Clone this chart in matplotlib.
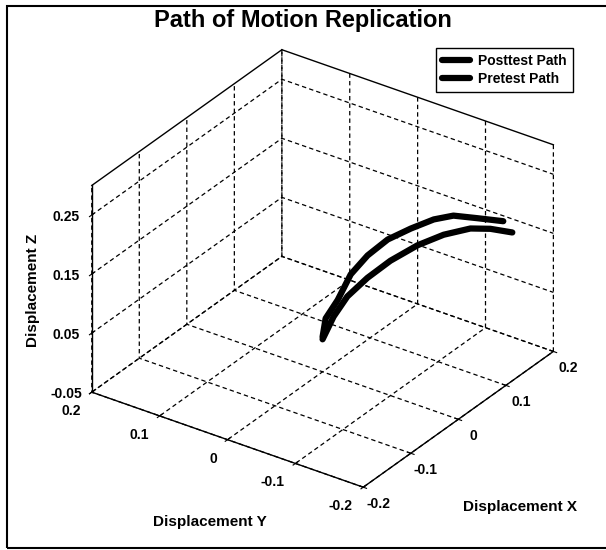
import matplotlib
matplotlib.use("Agg")
import matplotlib.pyplot as plt
from matplotlib.patches import Rectangle
import numpy as np

plt.rcParams['font.family'] = ['Liberation Sans', 'DejaVu Sans']
plt.rcParams['grid.linestyle'] = '--'

# ---- data ----
post_x = [0.000, -0.015, -0.011, -0.005, 0.009, 0.030, 0.057, 0.084, 0.104, 0.133, 0.166]
post_y = [0.000, -0.015, -0.030, -0.045, -0.060, -0.075, -0.090, -0.105, -0.120, -0.135, -0.150]
post_z = [0.009, 0.055, 0.090, 0.136, 0.166, 0.187, 0.196, 0.202, 0.203, 0.188, 0.170]

pre_x = [0.000, -0.001, 0.005, 0.023, 0.047, 0.081, 0.112, 0.144, 0.163, 0.185]
pre_y = [0.000, -0.017, -0.033, -0.050, -0.067, -0.083, -0.100, -0.117, -0.133, -0.150]
pre_z = [0.005, 0.051, 0.088, 0.116, 0.138, 0.151, 0.158, 0.157, 0.152, 0.140]

x_ticks = [-0.2, -0.1, 0, 0.1, 0.2]
x_ticklabels = ['-0.2', '-0.1', '0', '0.1', '0.2']
y_ticks = [-0.2, -0.1, 0, 0.1, 0.2]
y_ticklabels = ['-0.2', '-0.1', '0', '0.1', '0.2']
z_ticks = [-0.05, 0.05, 0.15, 0.25]
z_ticklabels = ['-0.05', '0.05', '0.15', '0.25']
xlim = (-0.2, 0.2)
ylim = (-0.2, 0.2)
zlim = (-0.05, 0.3)

series_names = ['Posttest Path', 'Pretest Path']

fig = plt.figure(figsize=(6.06, 5.5), dpi=100)
ax = fig.add_axes([0.0715, 0.06, 0.9, 0.88], projection='3d', proj_type='ortho')
ax.view_init(elev=30, azim=-145)
ax.set_box_aspect((1, 1, 0.72), zoom=1.055)

l1, = ax.plot(post_x, post_y, post_z, color='black', lw=4.5, solid_joinstyle='round',
              solid_capstyle='round', label=series_names[0])
l2, = ax.plot(pre_x, pre_y, pre_z, color='black', lw=4.5, solid_joinstyle='round',
              solid_capstyle='round', label=series_names[1])

# top box edges
ax.plot([xlim[0], xlim[1]], [ylim[1], ylim[1]], [zlim[1], zlim[1]], color='black', lw=1)
ax.plot([xlim[1], xlim[1]], [ylim[1], ylim[0]], [zlim[1], zlim[1]], color='black', lw=1)

ax.set_xlim(*xlim)
ax.set_ylim(*ylim)
ax.set_zlim(*zlim)
ax.set_xticks(x_ticks)
ax.set_xticklabels(x_ticklabels)
ax.set_yticks(y_ticks)
ax.set_yticklabels(y_ticklabels)
ax.set_zticks(z_ticks)
ax.set_zticklabels(z_ticklabels)

ax.tick_params(axis='x', which='major', pad=2, labelsize=10)
ax.tick_params(axis='y', which='major', pad=2, labelsize=10)
ax.tick_params(axis='z', which='major', pad=2, labelsize=10)

for axis in (ax.xaxis, ax.yaxis, ax.zaxis):
    axis.set_pane_color((1, 1, 1, 0))
    axis.pane.set_edgecolor((1, 1, 1, 0))
    axis._axinfo['grid']['color'] = 'black'
    axis._axinfo['grid']['linewidth'] = 0.9
    axis._axinfo['grid']['linestyle'] = (0, (3.5, 2.5))
    axis._axinfo['axisline']['color'] = 'black'
    axis.line.set_color('black')
    axis.line.set_linewidth(1.0)
    axis._axinfo['tick']['inward_factor'] = 0.15
    axis._axinfo['tick']['outward_factor'] = 0.15
    for t in axis.get_ticklabels():
        t.set_fontweight('bold')
        t.set_fontsize(10)
        t.set_va('center')

for t in ax.yaxis.get_ticklabels():
    t.set_ha('right')

fig.text(0.5, 1 - 20 / 550, 'Path of Motion Replication', ha='center', va='center',
         fontsize=17, fontweight='bold')
fig.text(210 / 606, 1 - 522 / 550, 'Displacement Y', ha='center', va='center',
         fontsize=11, fontweight='bold')
fig.text(520 / 606, 1 - 507 / 550, 'Displacement X', ha='center', va='center',
         fontsize=11, fontweight='bold')
fig.text(33 / 606, 1 - 290 / 550, 'Displacement Z', ha='center', va='center',
         fontsize=11, fontweight='bold', rotation=90)

leg = fig.legend(handles=[l1, l2], labels=series_names, loc='upper right',
                 bbox_to_anchor=(573 / 606, 1 - 48 / 550), bbox_transform=fig.transFigure,
                 fancybox=False, edgecolor='black', framealpha=1, borderaxespad=0,
                 prop={'weight': 'bold', 'size': 10}, handlelength=2.0, labelspacing=0.25,
                 borderpad=0.45, handletextpad=0.6)
leg.get_frame().set_linewidth(1.0)

fig.patches.append(Rectangle((7 / 606, 1 - 548 / 550), 1.2, 542 / 550, transform=fig.transFigure,
                             fill=False, edgecolor='black', lw=1.5))

fig.savefig('out.png', dpi=100)
